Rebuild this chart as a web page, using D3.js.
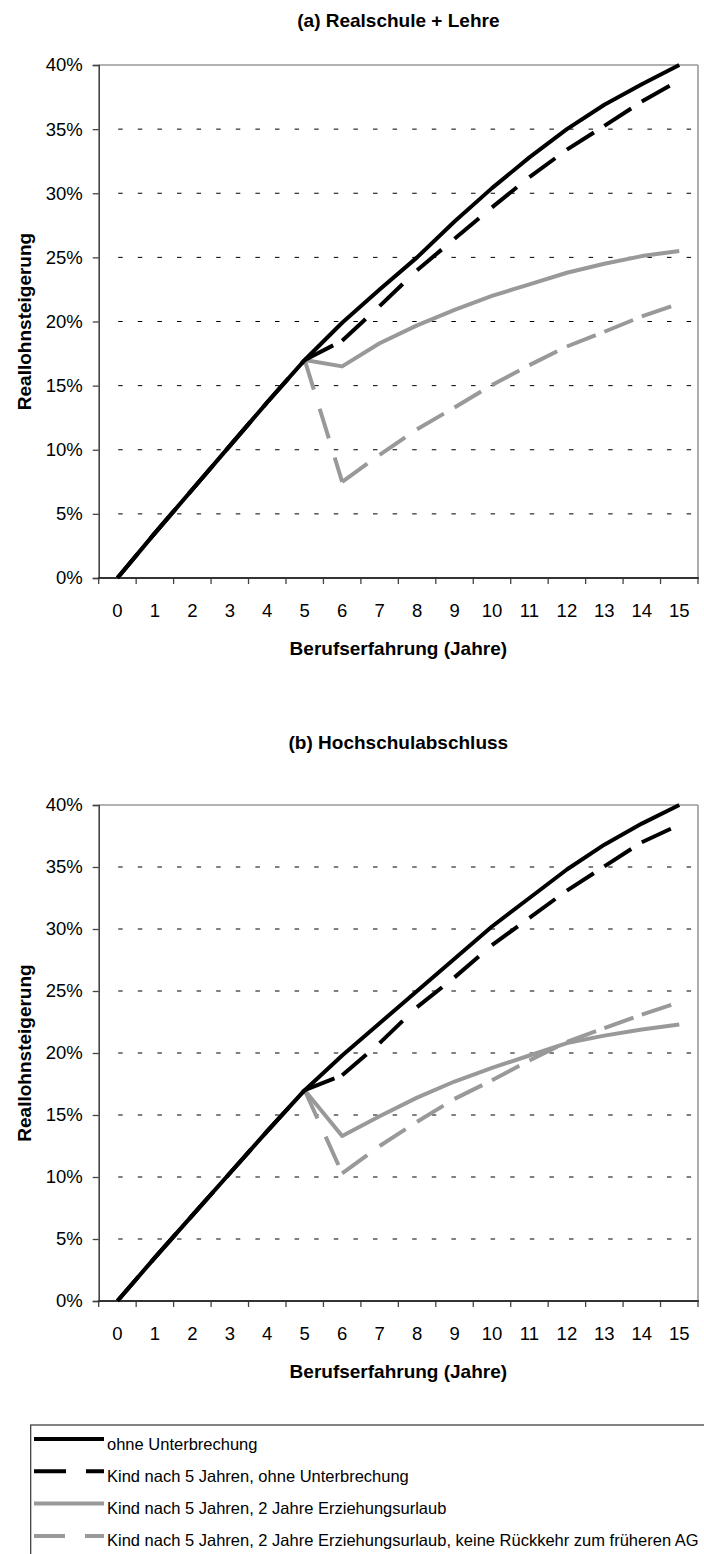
<!DOCTYPE html>
<html>
<head>
<meta charset="utf-8">
<script src="https://cdn.jsdelivr.net/npm/d3@7/dist/d3.min.js"></script>
<style>
  html, body { margin: 0; padding: 0; background: #fff; }
  svg { display: block; }
  text { font-family: "Liberation Sans", Arial, Helvetica, sans-serif; fill: #000; }
</style>
</head>
<body>
<svg id="chart" width="704" height="1554"></svg>
<script>
// ---------- data ----------
const years = ["0","1","2","3","4","5","6","7","8","9","10","11","12","13","14","15"];
const yTicks = [0, 0.05, 0.10, 0.15, 0.20, 0.25, 0.30, 0.35, 0.40];

const seriesNames = [
  "ohne Unterbrechung",
  "Kind nach 5 Jahren, ohne Unterbrechung",
  "Kind nach 5 Jahren, 2 Jahre Erziehungsurlaub",
  "Kind nach 5 Jahren, 2 Jahre Erziehungsurlaub, keine Rückkehr zum früheren AG"
];

const titleA = "(a) Realschule + Lehre";
const titleB = "(b) Hochschulabschluss";
const xTitle = "Berufserfahrung (Jahre)";
const yTitle = "Reallohnsteigerung";

// (a) Realschule + Lehre  (percent)
const a_ohne      = [0, 3.5, 6.9, 10.3, 13.7, 17.0, 19.9, 22.5, 25.0, 27.8, 30.4, 32.8, 35.0, 36.9, 38.5, 40.0];
const a_kind      = [0, 3.5, 6.9, 10.3, 13.7, 17.0, 18.5, 21.2, 24.0, 26.45, 28.9, 31.25, 33.4, 35.25, 37.15, 38.8];
const a_urlaub    = [0, 3.5, 6.9, 10.3, 13.7, 17.0, 16.5, 18.3, 19.7, 20.9, 22.0, 22.9, 23.8, 24.5, 25.1, 25.5];
const a_keineRk   = [0, 3.5, 6.9, 10.3, 13.7, 17.0, 7.5, 9.6, 11.6, 13.3, 15.05, 16.6, 18.05, 19.2, 20.4, 21.4];

// (b) Hochschulabschluss  (percent)
const b_ohne      = [0, 3.5, 6.9, 10.3, 13.7, 17.0, 19.8, 22.4, 25.0, 27.6, 30.2, 32.5, 34.8, 36.8, 38.5, 40.0];
const b_kind      = [0, 3.5, 6.9, 10.3, 13.7, 17.0, 18.2, 20.8, 23.7, 26.1, 28.7, 30.9, 33.1, 35.05, 37.0, 38.4];
const b_urlaub    = [0, 3.5, 6.9, 10.3, 13.7, 17.0, 13.3, 14.9, 16.4, 17.7, 18.8, 19.8, 20.8, 21.4, 21.9, 22.3];
const b_keineRk   = [0, 3.5, 6.9, 10.3, 13.7, 17.0, 10.3, 12.5, 14.45, 16.3, 17.8, 19.4, 20.9, 22.0, 23.1, 24.1];

// ---------- styles ----------
const styles = [
  { color: "#000000", dash: null },
  { color: "#000000", dash: "32,20" },
  { color: "#999999", dash: null },
  { color: "#999999", dash: "31,20" }
];
const LW = 4;
const FS_TICK = 18.5;
const FS_TITLE = 19;
const FS_LEG = 16.5;
const FONT = '"Liberation Sans", Arial, Helvetica, sans-serif';

const svg = d3.select("#chart");

function drawPanel(cfg) {
  const x0 = 98.7, x1 = 698;
  const x = d3.scaleBand().domain(years).range([x0, x1]).paddingInner(0).paddingOuter(0);
  const y = d3.scaleLinear().domain([0, 0.40]).range([cfg.bottom, cfg.top]);
  const cx = d => x(d) + x.bandwidth() / 2;
  const g = svg.append("g");

  // title
  g.append("text")
    .attr("x", (x0 + x1) / 2).attr("y", cfg.titleY).attr("dy", "0.35em")
    .attr("text-anchor", "middle").style("font-weight", "bold").style("font-size", FS_TITLE + "px")
    .text(cfg.title);

  // grid lines
  g.selectAll(".grid").data(yTicks.filter(t => t > 0 && t < 0.40)).enter()
    .append("line")
    .attr("x1", x0 + 19.5).attr("x2", x1)
    .attr("y1", d => y(d)).attr("y2", d => y(d))
    .attr("stroke", "#000").attr("stroke-width", 1)
    .attr("stroke-dasharray", "4.5,15.1");

  // top & right border
  g.append("line").attr("x1", x0).attr("x2", x1).attr("y1", cfg.top).attr("y2", cfg.top)
    .attr("stroke", "#999").attr("stroke-width", 1.6);
  g.append("line").attr("x1", x1).attr("x2", x1).attr("y1", cfg.top).attr("y2", cfg.bottom)
    .attr("stroke", "#999").attr("stroke-width", 1.6);

  // y axis
  const yAxis = d3.axisLeft(y).tickValues(yTicks).tickFormat(d3.format(".0%"))
    .tickSize(6).tickPadding(10);
  const ya = g.append("g").attr("transform", `translate(${x0},0)`).call(yAxis);
  ya.select(".domain").attr("stroke", "#444").attr("stroke-width", 1.6);
  ya.selectAll(".tick line").attr("stroke", "#444").attr("stroke-width", 1.3);
  ya.selectAll(".tick text").style("font-size", FS_TICK + "px")
    .style("font-family", FONT).attr("fill", "#000");

  // x axis (labels at band centres, ticks at band boundaries)
  const xAxis = d3.axisBottom(x).tickSize(0).tickPadding(26);
  const xa = g.append("g").attr("transform", `translate(0,${cfg.bottom})`).call(xAxis);
  xa.select(".domain").remove();
  xa.selectAll(".tick text").style("font-size", FS_TICK + "px")
    .style("font-family", FONT).attr("fill", "#000");
  const bounds = years.map(d => x(d)).concat([x1]);
  g.selectAll(".xt").data(bounds).enter().append("line")
    .attr("x1", d => d).attr("x2", d => d)
    .attr("y1", cfg.bottom).attr("y2", cfg.bottom + 6)
    .attr("stroke", "#444").attr("stroke-width", 1.3);
  g.append("line").attr("x1", x0 - 0.8).attr("x2", x1 + 0.8)
    .attr("y1", cfg.bottom).attr("y2", cfg.bottom)
    .attr("stroke", "#333").attr("stroke-width", 1.8);

  // axis titles
  g.append("text")
    .attr("x", (x0 + x1) / 2).attr("y", cfg.bottom + 70).attr("dy", "0.35em")
    .attr("text-anchor", "middle").style("font-weight", "bold").style("font-size", FS_TITLE + "px")
    .text(xTitle);
  g.append("text")
    .attr("transform", `translate(24,${(cfg.top + cfg.bottom) / 2}) rotate(-90)`)
    .attr("dy", "0.35em")
    .attr("text-anchor", "middle").style("font-weight", "bold").style("font-size", FS_TITLE + "px")
    .text(yTitle);

  // series (draw last series first so black solid lies on top)
  const line = d3.line().x(d => cx(d.year)).y(d => y(d.v / 100));
  const lg = g.append("g");
  for (let s = cfg.series.length - 1; s >= 0; s--) {
    const pts = years.map((yr, i) => ({ year: yr, v: cfg.series[s][i] }));
    const st = styles[s];
    if (st.dash) {
      // Excel restarts the dash pattern on every segment
      const segs = d3.pairs(pts);
      lg.selectAll(null).data(segs).enter().append("path")
        .attr("d", d => line(d))
        .attr("fill", "none").attr("stroke", st.color).attr("stroke-width", LW)
        .attr("stroke-dasharray", st.dash).attr("stroke-linecap", "butt");
    } else {
      lg.append("path").datum(pts).attr("d", line)
        .attr("fill", "none").attr("stroke", st.color).attr("stroke-width", LW)
        .attr("stroke-linejoin", "round").attr("stroke-linecap", "butt");
    }
  }
}

drawPanel({ title: titleA, titleY: 20, top: 65, bottom: 578,
  series: [a_ohne, a_kind, a_urlaub, a_keineRk] });
drawPanel({ title: titleB, titleY: 742, top: 805, bottom: 1301,
  series: [b_ohne, b_kind, b_urlaub, b_keineRk] });

// ---------- legend ----------
const legTop = 1425, legLeft = 30.7;
svg.append("rect").attr("x", legLeft).attr("y", legTop)
  .attr("width", 704 - legLeft + 10).attr("height", 200)
  .attr("fill", "none").attr("stroke", "#333").attr("stroke-width", 1.2);
const leg = svg.append("g").selectAll("g").data(seriesNames).enter().append("g")
  .attr("transform", (d, i) => `translate(0,${legTop + 14 + i * 32.3})`);
leg.append("line").attr("x1", 34).attr("x2", 104).attr("y1", 0).attr("y2", 0)
  .attr("stroke", (d, i) => styles[i].color).attr("stroke-width", LW)
  .attr("stroke-dasharray", (d, i) => styles[i].dash);
leg.append("text").attr("x", 107).attr("y", 10.5).style("font-size", FS_LEG + "px")
  .text(d => d);
</script>
</body>
</html>
